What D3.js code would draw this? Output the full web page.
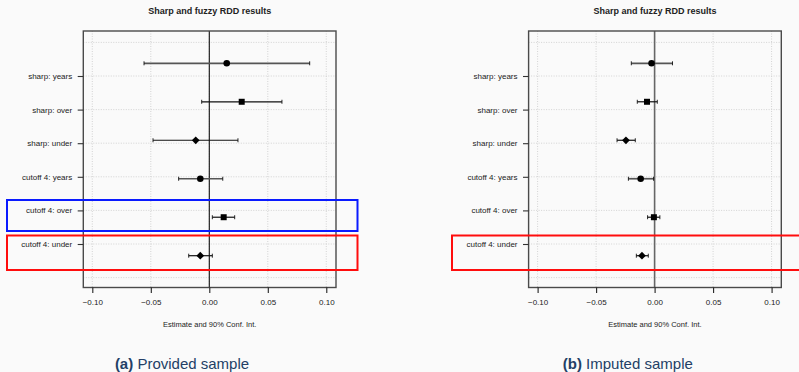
<!DOCTYPE html>
<html>
<head>
<meta charset="utf-8">
<script src="https://cdn.jsdelivr.net/npm/d3@7"></script>
<style>
  html, body { margin: 0; padding: 0; background: #fafafa; }
  svg { display: block; }
  text { font-family: "Liberation Sans", Arial, sans-serif; }
</style>
</head>
<body>
<svg id="chart" width="799" height="372"></svg>
<script>
// Row labels (top to bottom) and the marker used for each estimate
const categories = ["sharp: years", "sharp: over", "sharp: under",
                    "cutoff 4: years", "cutoff 4: over", "cutoff 4: under"];
const shapes = ["circle", "square", "diamond", "circle", "square", "diamond"];

// (a) Provided sample: point estimate, lower and upper 90% bounds
const providedEst   = [0.0149, 0.0277, -0.0116, -0.0077, 0.0123, -0.0077];
const providedLower = [-0.0558, -0.0065, -0.0481, -0.0262, 0.0026, -0.0176];
const providedUpper = [0.0858, 0.0621, 0.0245, 0.0115, 0.0217, 0.0026];

// (b) Imputed sample
const imputedEst   = [-0.0026, -0.0065, -0.0245, -0.0119, -0.0006, -0.0108];
const imputedLower = [-0.0199, -0.0148, -0.0321, -0.0224, -0.0060, -0.0156];
const imputedUpper = [0.0153, 0.0023, -0.0165, -0.0009, 0.0045, -0.0054];

const xTicks = [-0.10, -0.05, 0.00, 0.05, 0.10];
const xTickLabels = ["\u22120.10", "\u22120.05", "0.00", "0.05", "0.10"];

const chartTitle = "Sharp and fuzzy RDD results";
const xTitle = "Estimate and 90% Conf. Int.";

const panels = [
  { est: providedEst, lo: providedLower, hi: providedUpper, tag: "(a)", caption: "Provided sample",
    offset: 0, zeroColor: "#111", zeroWidth: 1.1, captionX: 182,
    boxes: [ { row: 4, color: "#0a1aff", x0: 7, x1: 357.5 },
             { row: 5, color: "#ff0d0d", x0: 7, x1: 357.5 } ] },
  { est: imputedEst, lo: imputedLower, hi: imputedUpper, tag: "(b)", caption: "Imputed sample",
    offset: 445.3, zeroColor: "#666", zeroWidth: 1.6, captionX: 182.5,
    boxes: [ { row: 5, color: "#ff0d0d", x0: 452, x1: 805 } ] }
];

const svg = d3.select("#chart");

// Shared geometry of one panel (left panel coordinates)
const plotLeft = 83.3, plotRight = 336, plotTop = 31, plotBottom = 287.5;

panels.forEach(p => {
  const g = svg.append("g").attr("transform", `translate(${p.offset},0)`);

  const x = d3.scaleLinear().domain([-0.1077, 0.1083]).range([plotLeft, plotRight]);
  // label rows and the rows the estimates are drawn on use different spacing
  const yLabel = d3.scalePoint().domain(categories).range([76, 244]);
  const yPoint = d3.scalePoint().domain(categories).range([63.3, 255.7]);
  const yGrid = d3.scaleLinear().domain([0, 7]).range([42.4, 277.6]);

  // dotted grid
  g.append("g").selectAll("line.v").data(xTicks).join("line")
    .attr("x1", d => x(d)).attr("x2", d => x(d))
    .attr("y1", plotTop).attr("y2", plotBottom)
    .attr("stroke", "#cfcfcf").attr("stroke-width", 0.9).attr("stroke-dasharray", "1,1.5");
  g.append("g").selectAll("line.h").data(d3.range(8)).join("line")
    .attr("x1", plotLeft).attr("x2", plotRight)
    .attr("y1", d => yGrid(d)).attr("y2", d => yGrid(d))
    .attr("stroke", "#cfcfcf").attr("stroke-width", 0.9).attr("stroke-dasharray", "1,1.5");

  // zero reference line
  g.append("line")
    .attr("x1", x(0)).attr("x2", x(0)).attr("y1", plotTop).attr("y2", plotBottom)
    .attr("stroke", p.zeroColor).attr("stroke-width", p.zeroWidth);

  // plot frame
  g.append("rect")
    .attr("x", plotLeft).attr("y", plotTop)
    .attr("width", plotRight - plotLeft).attr("height", plotBottom - plotTop)
    .attr("fill", "none").attr("stroke", "#4a4a4a").attr("stroke-width", 1.4);

  // x axis
  const xAxis = d3.axisBottom(x).tickValues(xTicks)
    .tickFormat((d, i) => xTickLabels[i]).tickSize(5.5).tickPadding(6);
  const ax = g.append("g").attr("transform", `translate(0,${plotBottom})`).call(xAxis);
  ax.select(".domain").remove();
  ax.selectAll(".tick line").attr("stroke", "#222").attr("stroke-width", 1.1);
  ax.selectAll(".tick text").attr("font-size", 8).attr("fill", "#222")
    .attr("font-family", "Liberation Sans, Arial, sans-serif");

  // y axis (row labels)
  const yAxis = d3.axisLeft(yLabel).tickSize(5.6).tickPadding(5.5);
  const ay = g.append("g").attr("transform", `translate(${plotLeft},0)`).call(yAxis);
  ay.select(".domain").remove();
  ay.selectAll(".tick line").attr("stroke", "#333").attr("stroke-width", 1.1);
  ay.selectAll(".tick text").attr("font-size", 8).attr("fill", "#222")
    .attr("font-family", "Liberation Sans, Arial, sans-serif");

  // confidence intervals with end caps
  const rows = categories.map((c, i) => ({ c, i, est: p.est[i], lo: p.lo[i], hi: p.hi[i], shape: shapes[i] }));
  const ci = g.append("g").selectAll("g").data(rows).join("g");
  ci.append("line")
    .attr("x1", d => x(d.lo)).attr("x2", d => x(d.hi))
    .attr("y1", d => yPoint(d.c)).attr("y2", d => yPoint(d.c))
    .attr("stroke", d => d.shape === "circle" ? "#555" : "#111")
    .attr("stroke-width", d => d.shape === "circle" ? 1.7 : 1.2);
  ["lo", "hi"].forEach(k => {
    ci.append("line")
      .attr("x1", d => x(d[k])).attr("x2", d => x(d[k]))
      .attr("y1", d => yPoint(d.c) - 2).attr("y2", d => yPoint(d.c) + 2)
      .attr("stroke", "#111").attr("stroke-width", 0.9);
  });

  // point estimates
  const sym = { circle: d3.symbolCircle, square: d3.symbolSquare, diamond: d3.symbolSquare };
  const size = { circle: 34, square: 36, diamond: 30 };
  ci.append("path")
    .attr("d", d => d3.symbol().type(sym[d.shape]).size(size[d.shape])())
    .attr("transform", d => `translate(${x(d.est)},${yPoint(d.c)})` + (d.shape === "diamond" ? " rotate(45)" : ""))
    .attr("fill", "#000");

  // title and axis title
  g.append("text").attr("x", (plotLeft + plotRight) / 2).attr("y", 14)
    .attr("text-anchor", "middle").attr("font-size", 9).attr("font-weight", "bold")
    .attr("fill", "#222").text(chartTitle);
  g.append("text").attr("x", (plotLeft + plotRight) / 2).attr("y", 326.5)
    .attr("text-anchor", "middle").attr("font-size", 7.5).attr("fill", "#222").text(xTitle);

  // caption
  const cap = g.append("text").attr("x", p.captionX).attr("y", 369)
    .attr("text-anchor", "middle").attr("font-size", 15).attr("fill", "#233f66")
    .attr("font-family", "Lato, 'Open Sans', sans-serif");
  cap.append("tspan").attr("font-weight", "bold").text(p.tag + " ");
  cap.append("tspan").text(p.caption);

  // highlight boxes
  p.boxes.forEach(b => {
    g.append("rect")
      .attr("x", b.x0 - p.offset).attr("y", b.row === 4 ? 200 : 235.5)
      .attr("width", b.x1 - b.x0).attr("height", b.row === 4 ? 31 : 34.5)
      .attr("fill", "none").attr("stroke", b.color).attr("stroke-width", 2);
  });
});
</script>
</body>
</html>
